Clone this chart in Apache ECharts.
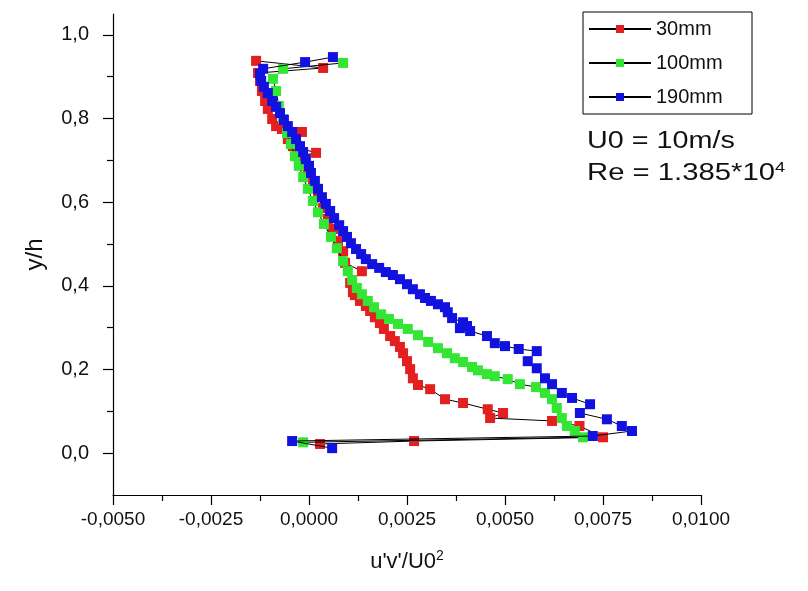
<!DOCTYPE html>
<html>
<head>
<meta charset="utf-8">
<script src="https://cdn.jsdelivr.net/npm/echarts@6/dist/echarts.min.js"></script>
<style>
html,body{margin:0;padding:0;background:#ffffff;}
#chart{width:808px;height:591px;}
</style>
</head>
<body>
<div id="chart"></div>
<script>
// ---- data (u'v'/U0^2, y/h) ----
const seriesNames = ['30mm', '100mm', '190mm'];
const seriesColors = ['#e3201f', '#33e633', '#1212e0'];

const data30mm = [
  [0.00028,0.022],[0.00268,0.029],[0.0075,0.038],[0.0069,0.065],[0.0062,0.077],
  [0.00462,0.084],[0.00495,0.096],[0.00456,0.105],[0.00393,0.120],[0.00347,0.129],
  [0.00309,0.153],[0.00278,0.163],[0.00265,0.179],[0.00258,0.201],[0.0025,0.220],
  [0.0024,0.239],[0.00232,0.254],[0.00219,0.268],[0.00207,0.280],[0.00191,0.297],
  [0.00181,0.311],[0.00168,0.325],[0.00156,0.340],[0.00145,0.352],[0.0013,0.364],
  [0.00117,0.378],[0.00112,0.385],[0.00105,0.407],[0.00135,0.435],[0.00092,0.455],
  [0.00087,0.483],[0.00074,0.507],[0.00061,0.536],[0.00048,0.560],[0.00036,0.586],
  [0.00023,0.612],[0.0001,0.639],[-0.00003,0.663],[-0.00015,0.687],[-0.00028,0.710],
  [0.00018,0.718],[-0.00041,0.734],[-0.00054,0.751],[-0.00018,0.768],[-0.00069,0.775],
  [-0.00084,0.782],[-0.00094,0.799],[-0.00105,0.823],[-0.00112,0.842],[-0.0012,0.866],
  [-0.00125,0.890],[-0.0013,0.909],[0.00036,0.921],[-0.00135,0.938]
];

const data100mm = [
  [-0.00015,0.026],[0.00699,0.038],[0.00678,0.053],[0.00658,0.065],[0.00645,0.084],
  [0.00632,0.108],[0.0062,0.129],[0.00602,0.144],[0.00579,0.158],[0.00538,0.165],
  [0.00507,0.177],[0.00474,0.184],[0.00454,0.189],[0.00431,0.198],[0.00416,0.206],
  [0.00393,0.218],[0.00372,0.227],[0.00352,0.239],[0.00329,0.251],[0.00304,0.266],
  [0.00278,0.282],[0.00252,0.297],[0.00227,0.309],[0.00204,0.321],[0.00184,0.332],
  [0.00166,0.349],[0.0015,0.364],[0.00135,0.380],[0.00122,0.395],[0.0011,0.414],
  [0.00099,0.435],[0.00087,0.459],[0.00071,0.490],[0.00056,0.517],[0.00038,0.548],
  [0.00023,0.576],[0.0001,0.603],[-0.00003,0.632],[-0.00015,0.660],[-0.00026,0.687],
  [-0.00036,0.710],[-0.00046,0.739],[-0.00056,0.765],[-0.00066,0.799],[-0.00077,0.830],
  [-0.00084,0.866],[-0.00092,0.895],[-0.00066,0.919],[0.00087,0.933]
];

const data190mm = [
  [0.00059,0.012],[-0.00043,0.029],[0.00724,0.041],[0.00824,0.053],[0.00798,0.065],
  [0.0076,0.081],[0.00691,0.096],[0.00717,0.117],[0.00671,0.132],[0.00645,0.144],
  [0.0062,0.165],[0.00602,0.179],[0.00581,0.203],[0.00558,0.220],[0.00581,0.244],
  [0.00535,0.249],[0.005,0.256],[0.00474,0.263],[0.00454,0.280],[0.00411,0.292],
  [0.00385,0.299],[0.00403,0.304],[0.00393,0.313],[0.00365,0.323],[0.00354,0.337],
  [0.00347,0.349],[0.00329,0.356],[0.00311,0.364],[0.00296,0.371],[0.00283,0.380],
  [0.00265,0.392],[0.0025,0.404],[0.00232,0.416],[0.00214,0.426],[0.00196,0.433],
  [0.00179,0.443],[0.00161,0.452],[0.00145,0.464],[0.00133,0.476],[0.0012,0.488],
  [0.00107,0.502],[0.00097,0.517],[0.00087,0.531],[0.00077,0.545],[0.00064,0.562],
  [0.00054,0.579],[0.00043,0.596],[0.00033,0.612],[0.00023,0.632],[0.00015,0.651],
  [0.00005,0.670],[0.0,0.687],[-0.00008,0.703],[-0.00015,0.720],[-0.00023,0.734],
  [-0.00033,0.751],[-0.00043,0.768],[-0.00054,0.782],[-0.00064,0.797],[-0.00074,0.813],
  [-0.00084,0.828],[-0.00094,0.842],[-0.00105,0.861],[-0.00115,0.876],[-0.00122,0.890],
  [-0.00125,0.907],[-0.00117,0.919],[-0.0001,0.935],[0.00061,0.947]
];

// axis ticks / labels
const xMin = -0.005, xMax = 0.01, xStep = 0.0025;
const yMin = -0.1, yMax = 1.05;
const yLabelValues = [0, 0.2, 0.4, 0.6, 0.8, 1.0];
const yMinorTickValues = [0.1, 0.3, 0.5, 0.7, 0.9];
const annotationLines = ['U0 = 10m/s', 'Re = 1.385*10', '4'];

const FONT = '"Liberation Sans", Arial, sans-serif';
const chart = echarts.init(document.getElementById('chart'), null, {renderer: 'canvas'});

const allData = [data30mm, data100mm, data190mm];

const option = {
  animation: false,
  backgroundColor: '#ffffff',
  textStyle: {fontFamily: FONT, color: '#000'},
  grid: {left: 113, right: 107, top: 14, bottom: 96, containLabel: false},
  legend: {
    orient: 'vertical',
    left: 583,
    top: 12,
    data: seriesNames,
    itemWidth: 62,
    itemHeight: 10,
    itemGap: 12,
    padding: [6, 8, 6, 5],
    borderColor: '#000',
    borderWidth: 1,
    selectedMode: false,
    textStyle: {fontSize: 20, fontFamily: FONT, color: '#111', width: 88, lineHeight: 22}
  },
  xAxis: {
    type: 'value',
    min: xMin, max: xMax, interval: xStep,
    name: "{a|u'v'/U0}{s|2}",
    nameLocation: 'middle',
    nameGap: 54,
    nameTextStyle: {
      rich: {
        a: {fontSize: 22, fontFamily: FONT, color: '#111', lineHeight: 26},
        s: {fontSize: 14, fontFamily: FONT, color: '#111', verticalAlign: 'top', lineHeight: 14}
      }
    },
    axisLine: {show: true, onZero: false, lineStyle: {color: '#000', width: 1.2}},
    axisTick: {show: true, inside: false, length: 10, lineStyle: {color: '#000', width: 1.2}},
    minorTick: {show: true, splitNumber: 2, length: 6, lineStyle: {color: '#000', width: 1.2}},
    splitLine: {show: false},
    axisLabel: {
      margin: 15, fontSize: 19, fontFamily: FONT, color: '#111',
      formatter: v => v.toFixed(4).replace('.', ',')
    }
  },
  yAxis: [{
    type: 'value',
    min: yMin, max: yMax,
    name: 'y/h',
    nameLocation: 'middle',
    nameGap: 66,
    nameTextStyle: {fontSize: 24, fontFamily: FONT, color: '#111'},
    axisLine: {show: true, onZero: false, lineStyle: {color: '#000', width: 1.2}},
    axisTick: {show: true, inside: false, length: 10, customValues: yLabelValues, lineStyle: {color: '#000', width: 1.2}},
    splitLine: {show: false},
    axisLabel: {
      margin: 24, fontSize: 20, fontFamily: FONT, color: '#111',
      customValues: yLabelValues,
      formatter: v => v.toFixed(1).replace('.', ',')
    }
  }, {
    type: 'value',
    position: 'left',
    offset: 0,
    min: yMin, max: yMax,
    axisLine: {show: false, onZero: false},
    axisTick: {show: true, inside: false, length: 6, customValues: yMinorTickValues, lineStyle: {color: '#000', width: 1.2}},
    axisLabel: {show: false},
    splitLine: {show: false}
  }],
  graphic: [
    {
      type: 'text', x: 587, y: 130, scaleX: 1.25,
      style: {text: annotationLines[0], font: '23px ' + FONT, fill: '#111', verticalAlign: 'top'}
    },
    {
      type: 'text', x: 587, y: 160, scaleX: 1.22,
      style: {
        text: '{b|' + annotationLines[1] + '}{s|' + annotationLines[2] + '}',
        verticalAlign: 'top',
        rich: {
          b: {font: '24px ' + FONT, fill: '#111', lineHeight: 26},
          s: {font: '15px ' + FONT, fill: '#111', verticalAlign: 'top', lineHeight: 15}
        }
      }
    }
  ],
  series: seriesNames.map((name, i) => ({
    name: name,
    type: 'line',
    xAxisIndex: 0,
    yAxisIndex: 0,
    data: allData[i],
    symbol: 'rect',
    symbolSize: 10,
    showSymbol: true,
    showAllSymbol: true,
    itemStyle: {color: seriesColors[i], borderWidth: 0},
    lineStyle: {color: '#000', width: 1},
    emphasis: {disabled: true},
    z: 2 + i
  }))
};

chart.setOption(option);
</script>
</body>
</html>
